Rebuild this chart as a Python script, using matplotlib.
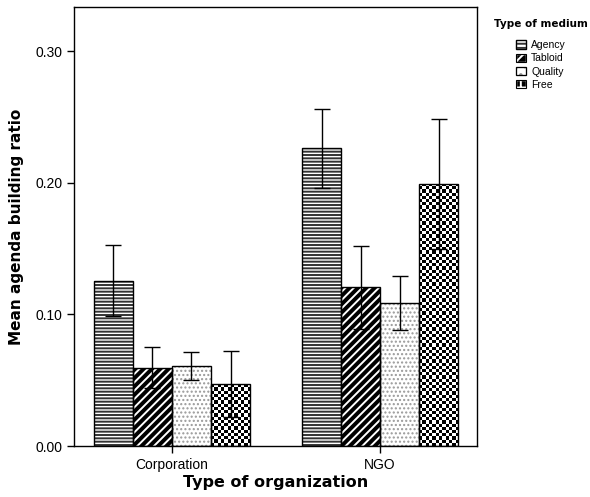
import numpy as np
import matplotlib.pyplot as plt
from matplotlib.patches import Patch

organizations = ["Corporation", "NGO"]
media = ["Agency", "Tabloid", "Quality", "Free"]
means = {
    "Agency": [0.1256, 0.2262],
    "Tabloid": [0.0595, 0.1206],
    "Quality": [0.0608, 0.1084],
    "Free": [0.0471, 0.1991],
}
errors = {
    "Agency": [0.0268, 0.0299],
    "Tabloid": [0.0155, 0.0316],
    "Quality": [0.0110, 0.0205],
    "Free": [0.0250, 0.0492],
}

plt.rcParams['font.family'] = ['Liberation Sans', 'DejaVu Sans']
plt.rcParams['hatch.linewidth'] = 1.4

fig = plt.figure(figsize=(5.9, 4.97), dpi=100)
ax = fig.add_axes([74 / 590, 51 / 497, 403 / 590, 439 / 497])

x = np.arange(len(organizations))
width = 0.1875
offsets = (np.arange(len(media)) - 1.5) * width


def checker_fill(bar, n=3.2):
    # small black/white checkerboard clipped to the bar
    x0, w, h = bar.get_x(), bar.get_width(), bar.get_height()
    nx = max(int(round(w * 208 / n)), 1)
    ny = max(int(round(h * 1316 / n)), 1)
    board = (np.add.outer(np.arange(ny), np.arange(nx)) % 2).astype(float)
    im = ax.imshow(board, cmap='gray', extent=(x0, x0 + w, 0, h), origin='lower',
                   interpolation='nearest', aspect='auto', zorder=2)
    im.set_clip_path(bar)


for i, m in enumerate(media):
    pos = x + offsets[i]
    if m == "Agency":
        bars = ax.bar(pos, means[m], width, facecolor='white', edgecolor='#333333',
                      hatch='-----', linewidth=0, zorder=2)
    elif m == "Tabloid":
        bars = ax.bar(pos, means[m], width, facecolor='black', edgecolor='white',
                      hatch='////', linewidth=0, zorder=2)
    elif m == "Quality":
        with plt.rc_context({'hatch.linewidth': 1.0}):
            bars = ax.bar(pos, means[m], width, facecolor='white', edgecolor='#999999',
                          hatch='....', linewidth=0, zorder=2)
    else:
        bars = ax.bar(pos, means[m], width, facecolor='white', linewidth=0, zorder=2)
        for b in bars:
            checker_fill(b)
    ax.bar(pos, means[m], width, fill=False, edgecolor='black', linewidth=1.0, zorder=3)
    ax.errorbar(pos, means[m], yerr=errors[m], fmt='none', ecolor='black',
                elinewidth=1.0, capsize=6, capthick=1.0, zorder=4)

ax.set_xlim(-0.471, 1.466)
ax.set_ylim(0, 0.3336)
ax.set_yticks([0.0, 0.1, 0.2, 0.3])
ax.set_yticklabels(["0.00", "0.10", "0.20", "0.30"])
ax.set_xticks(x)
ax.set_xticklabels(organizations)
ax.tick_params(axis='both', labelsize=10, direction='out', length=5, width=1)
for s in ax.spines.values():
    s.set_linewidth(1.0)

ax.set_xlabel("Type of organization", fontsize=11.5, fontweight='bold',
              family=['DejaVu Sans'], labelpad=2)
ax.set_ylabel("Mean agenda building ratio", fontsize=11, fontweight='bold',
              family=['DejaVu Sans'], labelpad=8)

outline = Patch(facecolor='none', edgecolor='black', linewidth=0.8)
handles = [
    (Patch(facecolor='white', edgecolor='#333333', hatch='----'), outline),
    (Patch(facecolor='black', edgecolor='white', hatch='///'), outline),
    (Patch(facecolor='white', edgecolor='#888888', hatch='..'), outline),
    (Patch(facecolor='black', edgecolor='white', hatch='++'), outline),
]
leg = fig.legend(handles=handles, labels=media, loc='upper left',
                 bbox_to_anchor=(489 / 590, 1 - 14 / 497), borderpad=0,
                 frameon=False, fontsize=7.5, handlelength=0.9, handleheight=0.9,
                 handletextpad=0.5, labelspacing=0.3, title="Type of medium",
                 title_fontproperties={'weight': 'bold', 'size': 7.5, 'family': 'DejaVu Sans'})
leg._legend_box.sep = 8

fig.savefig("out.png", dpi=100)
